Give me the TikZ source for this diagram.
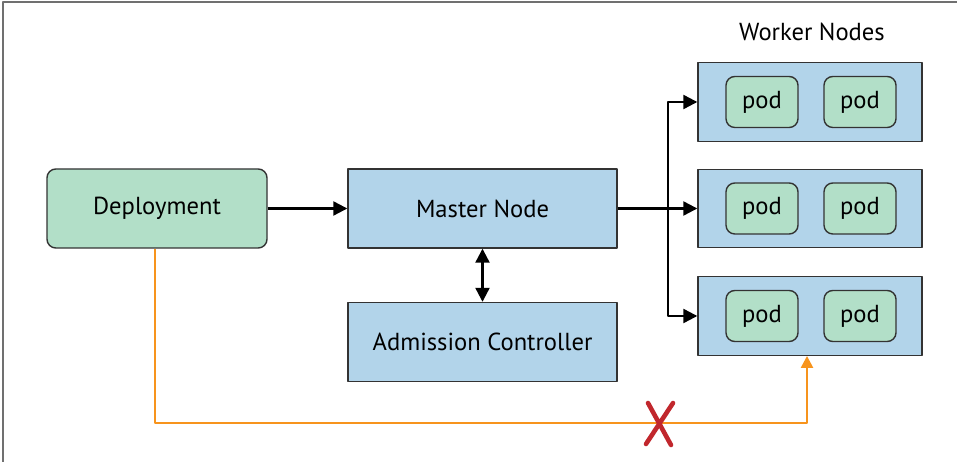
\documentclass[tikz,border=0pt]{standalone}
\usepackage{fontspec}
\setmainfont{PT Sans}
\usetikzlibrary{arrows.meta}
\definecolor{podgreen}{HTML}{B2DFC8}
\definecolor{nodeblue}{HTML}{B2D4EA}
\definecolor{edgegray}{HTML}{333333}
\definecolor{warnorange}{HTML}{F7941D}
\definecolor{crossred}{HTML}{C1272D}
\tikzset{
  bluebox/.style={draw=edgegray,line width=0.8pt,fill=nodeblue,minimum width=5.38cm,minimum height=1.58cm,inner sep=0pt},
  greenbox/.style={draw=edgegray,line width=0.8pt,fill=podgreen,rounded corners=5pt,inner sep=0pt},
  flow/.style={line width=1.3pt,-{Triangle[length=2.8mm,width=2.8mm]}}
}
\begin{document}
\begin{tikzpicture}[line join=round,font=\fontsize{14}{16}\selectfont]
			\useasboundingbox (0,0) rectangle (19.14,9.24);
			\draw [edgegray!70,line width=0.6pt] (0.06,0)--(0.06,9.2)--(19.14,9.2);
			\path 
			(13.36,5.07) coordinate (br)
			(13.16,0.78) coordinate (blk);
			\node [greenbox,minimum width=4.4cm,minimum height=1.58cm] (dep) at (3.14,5.07) {Deployment};
			\node [bluebox] (mst) at (9.65,5.07) {Master Node};
			\node [bluebox] (adm) at (9.65,2.4) {Admission Controller};
			\node (wlbl) at (16.24,8.6) {Worker Nodes};
			\foreach \y [count=\i] in {7.2,5.07,2.92}{
				\node [bluebox,minimum width=4.48cm,minimum height=1.57cm] (w\i) at (16.2,\y) {};
				\node [greenbox,minimum width=1.44cm,minimum height=1.02cm] (p\i a) at (15.24,\y) {pod};
				\node [greenbox,minimum width=1.44cm,minimum height=1.02cm] (p\i b) at (17.2,\y) {pod};
			}
			\draw [flow] (dep.east)--(mst.west);
			\draw [flow] (mst.east)--(w2.west);
			\draw [flow] (br)|-(w1.west);
			\draw [flow] (br)|-(w3.west);
			\draw [line width=1.3pt,{Triangle[length=2.8mm,width=2.8mm]}-{Triangle[length=2.8mm,width=2.8mm]}] (mst.south)--(adm.north);
			\draw [warnorange,line width=1.4pt,-{Triangle[length=2.4mm,width=2.4mm]}] ([xshift=-0.04cm]dep.south)|-(blk)-|([xshift=-0.06cm]w3.south);
			\draw [crossred,line width=2.6pt,line cap=round] ([shift={(-0.2,0.4)}]blk)--([shift={(0.26,-0.44)}]blk)
				([shift={(0.3,0.4)}]blk)--([shift={(-0.24,-0.42)}]blk);
		\end{tikzpicture}
\end{document}
